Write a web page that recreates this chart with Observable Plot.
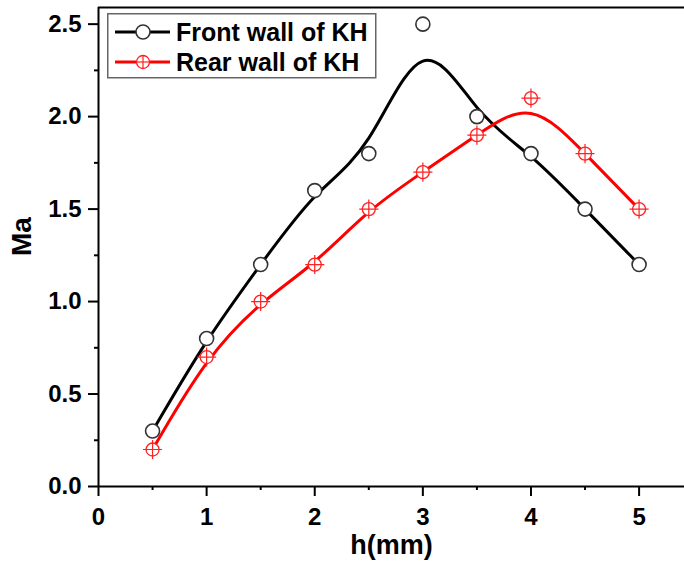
<!DOCTYPE html>
<html>
<head>
<meta charset="utf-8">
<script src="https://cdn.jsdelivr.net/npm/d3@7"></script>
<script src="https://cdn.jsdelivr.net/npm/@observablehq/plot@0.6"></script>
<style>
  html, body { margin: 0; padding: 0; background: #fff; }
  #wrap { position: relative; width: 684px; height: 561px; }
</style>
</head>
<body>
<div id="wrap"></div>
<script>
// ---- data ----
const hValues  = [0.5, 1, 1.5, 2, 2.5, 3, 3.5, 4, 4.5, 5];
const frontMa  = [0.3, 0.8, 1.2, 1.6, 1.8, 2.5, 2.0, 1.8, 1.5, 1.2];
const rearMa   = [0.2, 0.7, 1.0, 1.2, 1.5, 1.7, 1.9, 2.1, 1.8, 1.5];
const seriesNames = ["Front wall of KH", "Rear wall of KH"];
const xMajorTicks = [0, 1, 2, 3, 4, 5];
const xMinorTicks = [0.5, 1.5, 2.5, 3.5, 4.5];
const yMajorTicks = [0, 0.5, 1.0, 1.5, 2.0, 2.5];
const yMinorTicks = [0.25, 0.75, 1.25, 1.75, 2.25];
const xDomain = [0, 5.42];
const yDomain = [0, 2.59];
const xLabel = "h(mm)";
const yLabel = "Ma";

const front = hValues.map((h, i) => ({h, v: frontMa[i]}));
const rear  = hValues.map((h, i) => ({h, v: rearMa[i]}));

const font = "'Liberation Sans', Arial, sans-serif";

const chart = Plot.plot({
  width: 684,
  height: 561,
  marginLeft: 98,
  marginRight: 0,
  marginTop: 7,
  marginBottom: 75,
  style: {fontFamily: font, fontSize: "24px", fontWeight: "bold", color: "#000", background: "#fff"},
  x: {domain: xDomain},
  y: {domain: yDomain},
  marks: [
    Plot.axisX({ticks: xMajorTicks, tickSize: 10, tickPadding: 11, tickFormat: d3.format("d"), label: null, strokeWidth: 2}),
    Plot.axisX({ticks: xMinorTicks, tickSize: 4, tickFormat: () => "", label: null, strokeWidth: 2}),
    Plot.axisY({ticks: yMajorTicks, tickSize: 10, tickPadding: 7, tickFormat: d3.format(".1f"), label: null, strokeWidth: 2}),
    Plot.axisY({ticks: yMinorTicks, tickSize: 4, tickFormat: () => "", label: null, strokeWidth: 2}),
    Plot.ruleY([yDomain[0]], {stroke: "#000", strokeWidth: 2}),
    Plot.ruleY([yDomain[1]], {stroke: "#000", strokeWidth: 2}),
    Plot.ruleX([xDomain[0]], {stroke: "#000", strokeWidth: 2}),
    Plot.line(front, {x: "h", y: "v", curve: "basis", stroke: "#000", strokeWidth: 3}),
    Plot.dot(front, {x: "h", y: "v", r: 7, fill: "#fff", stroke: "#333", strokeWidth: 1.6}),
    Plot.line(rear, {x: "h", y: "v", curve: "basis", stroke: "#ff0000", strokeWidth: 3}),
    Plot.dot(rear, {x: "h", y: "v", r: 6.5, fill: "#fff", stroke: "#ff2020", strokeWidth: 1.3}),
    Plot.dot(rear, {x: "h", y: "v", r: 6.2, symbol: "plus", stroke: "#ff2020", strokeWidth: 1.2}),
    Plot.text([xLabel], {frameAnchor: "bottom", dy: 59, lineAnchor: "middle", fontSize: 27, fontWeight: "bold", fill: "#000"}),
    Plot.text([yLabel], {frameAnchor: "left", dx: -76, dy: 9, rotate: -90, lineAnchor: "middle", fontSize: 28, fontWeight: "bold", fill: "#000"})
  ]
});
document.getElementById("wrap").appendChild(chart);

// ---- legend ----
const ns = "http://www.w3.org/2000/svg";
const leg = document.createElementNS(ns, "svg");
leg.setAttribute("width", 270);
leg.setAttribute("height", 66);
leg.style.position = "absolute";
leg.style.left = "107px";
leg.style.top = "13px";
leg.innerHTML = `
  <rect x="0.75" y="0.75" width="268" height="64" fill="#fff" stroke="#666" stroke-width="1.5"/>
  <line x1="8" x2="63" y1="19" y2="19" stroke="#000" stroke-width="3"/>
  <circle cx="36" cy="19" r="7" fill="#fff" stroke="#333" stroke-width="1.6"/>
  <text x="69" y="19" dy="0.36em" font-family="${font}" font-weight="bold" font-size="25">${seriesNames[0]}</text>
  <line x1="8" x2="63" y1="49" y2="49" stroke="#ff0000" stroke-width="3"/>
  <circle cx="36" cy="49" r="6.5" fill="#fff" stroke="#ff2020" stroke-width="1.3"/>
  <line x1="29.8" x2="42.2" y1="49" y2="49" stroke="#ff2020" stroke-width="1.2"/>
  <line x1="36" x2="36" y1="42.8" y2="55.2" stroke="#ff2020" stroke-width="1.2"/>
  <text x="69" y="49" dy="0.36em" font-family="${font}" font-weight="bold" font-size="25">${seriesNames[1]}</text>
`;
document.getElementById("wrap").appendChild(leg);
</script>
</body>
</html>
